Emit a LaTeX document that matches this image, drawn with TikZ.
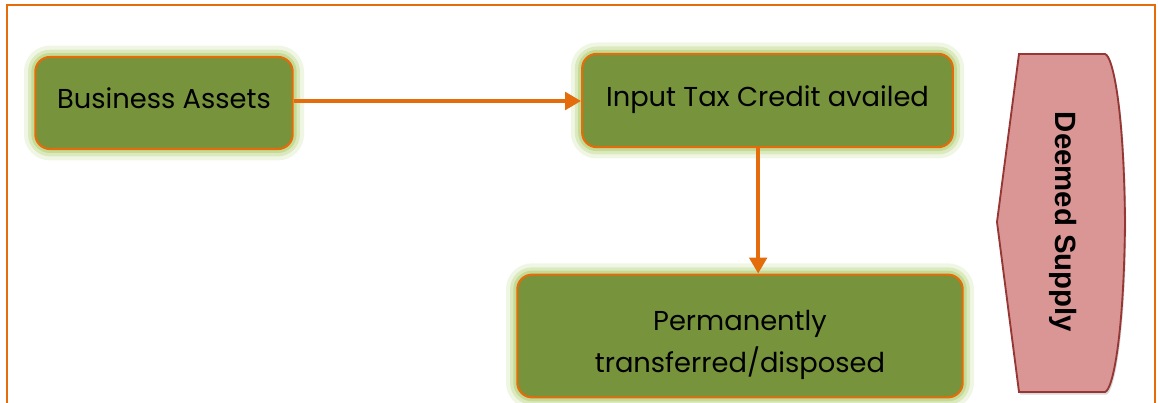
\documentclass[tikz,border=0pt]{standalone}
\usepackage{fontspec}
\setmainfont{Poppins}
\newfontfamily\deemedfont{Liberation Sans}
\usetikzlibrary{arrows.meta, shadows}

\definecolor{boxgreen}{HTML}{77933C}
\definecolor{lineorange}{HTML}{E46C0A}
\definecolor{glowgreen}{HTML}{B5D27A}
\definecolor{deemedfill}{HTML}{D99694}
\definecolor{deemedline}{HTML}{953735}

\begin{document}
\begin{tikzpicture}[
  x = 0.75pt, y = -0.75pt,
  assetbox/.style={draw=lineorange, line width=1.6pt, fill=boxgreen, rounded corners=11pt,
    align=center, font=\fontsize{20.5}{31}\selectfont,
    preaction={draw=glowgreen, line width=17pt, opacity=.2},
    preaction={draw=glowgreen, line width=11pt, opacity=.35},
    preaction={draw=glowgreen, line width=6pt, opacity=.6}},
  flow/.style={draw=lineorange, line width=3pt, -{Triangle[length=12pt,width=13pt]}},
  deemed/.style={draw=deemedline, line width=1.4pt, fill=deemedfill,
    drop shadow={opacity=.3, shadow xshift=1pt, shadow yshift=-2pt}}
]
%general params
\def\arrowoff{7pt} %shift of the down arrow
\useasboundingbox (0,0) rectangle (1158,403);

%frame
\draw[lineorange, line width=1.5pt] (7,403) -- (7,5) -- (1155,5) -- (1155,403);

%boxes
\node[assetbox, minimum width=193pt, minimum height=69pt, text depth=7pt] (assets) at (164,103) {Business Assets};
\node[assetbox, minimum width=278pt, minimum height=70pt, text depth=7pt] (itc) at (767.5,100.5) {Input Tax Credit availed};
\node[assetbox, minimum width=334pt, minimum height=92pt, text height=58pt, text depth=4pt] (disposed) at (740,336) {Permanently\\transferred/disposed};

%arrows
\draw[flow] (assets.east |- 0,101) -- (itc.west |- 0,101);
\draw[flow] ([xshift=-\arrowoff]itc.south) -- ([xshift=-\arrowoff]itc.south |- disposed.north);

%deemed supply
\draw[deemed] (1019,54) -- (1105,54) .. controls (1113,56) and (1124,110) .. (1125,222)
  .. controls (1124,334) and (1113,390) .. (1105,392) -- (1019,392) -- (997,222) -- cycle;
\node[rotate=-90, font=\deemedfont\bfseries\fontsize{22}{26}\selectfont] (deemedtext) at (1063,222) {Deemed Supply};

\end{tikzpicture}
\end{document}
